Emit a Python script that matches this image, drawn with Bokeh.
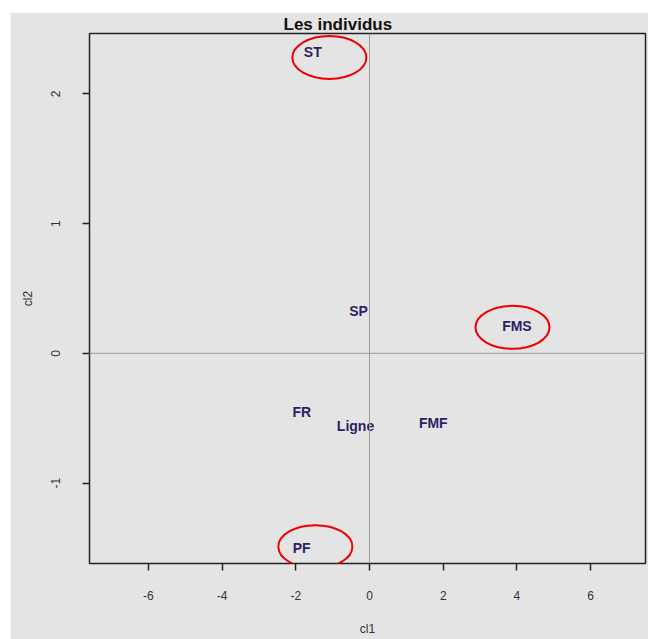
from bokeh.plotting import figure
from bokeh.models import ColumnDataSource, Span, FixedTicker, LinearAxis
from bokeh.core.properties import value
from bokeh.embed import file_html
from bokeh.resources import INLINE

# Individuals on the first factorial plane (cl1, cl2)
names = ["ST", "SP", "FMS", "FR", "Ligne", "FMF", "PF"]
cl1 = [-1.54, -0.30, 4.00, -1.84, -0.38, 1.73, -1.84]
cl2 = [2.32, 0.33, 0.21, -0.45, -0.56, -0.54, -1.50]

# Individuals singled out with a red ring
ring_x = [-1.09, 3.88, -1.47]
ring_y = [2.28, 0.20, -1.49]

x_ticks = [-6, -4, -2, 0, 2, 4, 6]
y_ticks = [-1, 0, 1, 2]

bg = "#e4e4e4"
font = "Liberation Sans"

p = figure(width=638, height=627, x_range=(-7.6, 7.49), y_range=(-1.62, 2.465),
           output_backend="svg", toolbar_location=None,
           min_border_left=79, min_border_right=3, min_border_top=0, min_border_bottom=76,
           margin=(12, 0, 0, 10))
p.background_fill_color = bg
p.border_fill_color = bg
p.outline_line_color = "#222222"
p.outline_line_width = 1.5
p.grid.visible = False

p.title.text = "Les individus"
p.title.text_font = font
p.title.text_font_size = "17px"
p.title.text_font_style = "bold"
p.title.text_color = "#111111"
p.title.align = "left"
p.title.offset = 194
p.title.standoff = 0

for ax, ticks in ((p.xaxis, x_ticks), (p.yaxis, y_ticks)):
    ax.ticker = FixedTicker(ticks=ticks)
    ax.major_label_overrides = {t: str(t) for t in ticks}
    ax.axis_line_color = None
    ax.major_tick_out = 7
    ax.major_tick_in = 0
    ax.major_tick_line_color = "#222222"
    ax.major_tick_line_width = 1.5
    ax.minor_tick_line_color = None
    ax.major_label_text_font = font
    ax.major_label_text_font_size = "12px"
    ax.major_label_text_color = "#333333"
    ax.axis_label_text_font = font
    ax.axis_label_text_font_size = "12px"
    ax.axis_label_text_font_style = "normal"
    ax.axis_label_text_color = "#333333"

p.xaxis.axis_label = "cl1"
p.xaxis.major_label_standoff = 20
p.xaxis.axis_label_standoff = 19
p.yaxis.axis_label = "cl2"
p.yaxis.major_label_orientation = "vertical"
p.yaxis.major_label_standoff = 22
p.yaxis.axis_label_standoff = 14

# Blank top axis: keeps a gap between the title and the frame
top_gap = LinearAxis(ticker=FixedTicker(ticks=[]), axis_line_color=None,
                     major_tick_line_color=None, minor_tick_line_color=None,
                     major_tick_in=0, major_tick_out=26, minor_tick_out=0,
                     major_label_standoff=0)
p.add_layout(top_gap, "above")

# Origin lines
p.add_layout(Span(location=0, dimension="width", line_color="#9a9a9a", line_width=1))
p.add_layout(Span(location=0, dimension="height", line_color="#9a9a9a", line_width=1))

src = ColumnDataSource(dict(x=cl1, y=cl2, name=names))
p.text(x="x", y="y", text="name", source=src, text_align="center",
       text_baseline="middle", text_font=value(font), text_font_size="14px",
       text_font_style="bold", text_color="#2d1f66")

p.ellipse(x=ring_x, y=ring_y, width=74, height=43, width_units="screen",
          height_units="screen", fill_color=None, line_color="#ee0000", line_width=2)

open("out.html", "w").write(file_html(p, INLINE))
